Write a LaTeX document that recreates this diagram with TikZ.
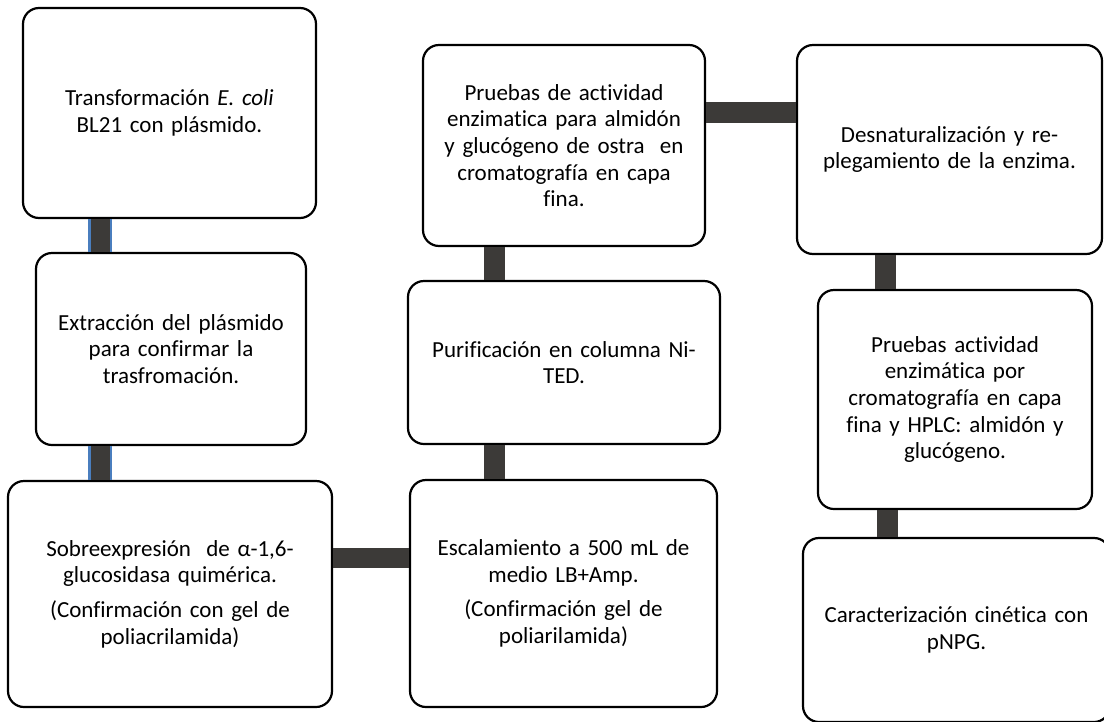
\documentclass[tikz,border=0pt]{standalone}
\usepackage{fontspec}
\setmainfont[Ligatures=NoCommon]{Carlito}
\definecolor{conndark}{RGB}{60,58,56}
\definecolor{connblue}{RGB}{74,126,190}
\tikzset{
  box/.style={draw=black, line width=2.2pt, fill=white, rounded corners=16pt,
    inner sep=0pt, align=center, font=\fontsize{23}{26.7}\selectfont},
  conn/.style={draw=conndark, line width=21pt, line cap=butt},
  connb/.style={draw=connblue, line width=24pt, line cap=butt},
  conni/.style={draw=conndark, line width=19pt, line cap=butt},
}
\begin{document}
\begin{tikzpicture}[x=1pt,y=-1pt]
\useasboundingbox (0,0) rectangle (1104,721);
\clip (0,0) rectangle (1104,721);
% nodes
\node[box, minimum width=293pt, minimum height=210pt, text width=285pt] (b1) at (169.5,113)
  {Transformación \textit{E. coli}\\BL21 con plásmido.};
\node[box, minimum width=270pt, minimum height=192pt, text width=264pt] (b2) at (171,349)
  {Extracción del plásmido\\para confirmar la\\trasfromación.};
\node[box, minimum width=324pt, minimum height=226pt, text width=316pt] (b3) at (170,594)
  {Sobreexpresión~ de α-1,6-\\glucosidasa quimérica.\\[8pt](Confirmación con gel de\\poliacrilamida)};
\node[box, minimum width=307pt, minimum height=227pt, text width=300pt] (b4) at (563.5,593.5)
  {Escalamiento a 500 mL de\\medio LB+Amp.\\[8pt](Confirmación gel de\\poliarilamida)};
\node[box, minimum width=312pt, minimum height=163pt, text width=305pt] (b5) at (564,362.5)
  {Purificación en columna Ni-\\TED.};
\node[box, minimum width=282pt, minimum height=201pt, text width=276pt] (b6) at (564,145.5)
  {Pruebas de actividad\\enzimatica para almidón\\y glucógeno de ostra~ en\\cromatografía en capa\\fina.};
\node[box, minimum width=305pt, minimum height=209pt, text width=298pt] (b7) at (949.5,149.5)
  {Desnaturalización y re-\\plegamiento de la enzima.};
\node[box, minimum width=274pt, minimum height=219pt, text width=268pt] (b8) at (955,399.5)
  {Pruebas actividad\\enzimática por\\cromatografía en capa\\fina y HPLC: almidón y\\glucógeno.};
\node[box, minimum width=307pt, minimum height=184pt, text width=300pt] (b9) at (956.5,630)
  {Caracterización cinética con\\pNPG.};
% connector guide coordinates
\coordinate (x1) at (100,0);
\coordinate (x2) at (494.5,0);
\coordinate (x3) at (885.5,0);
\coordinate (x4) at (887,0);
\coordinate (y1) at (0,558);
\coordinate (y2) at (0,112.5);
% connectors
\draw[connb] (b1.south -| x1) -- (b2.north -| x1);
\draw[conni] (b1.south -| x1) -- (b2.north -| x1);
\draw[connb] (b2.south -| x1) -- (b3.north -| x1);
\draw[conni] (b2.south -| x1) -- (b3.north -| x1);
\draw[conn, line width=20pt] (b3.east |- y1) -- (b4.west |- y1);
\draw[conn] (b4.north -| x2) -- (b5.south -| x2);
\draw[conn] (b5.north -| x2) -- (b6.south -| x2);
\draw[conn] (b6.east |- y2) -- (b7.west |- y2);
\draw[conn] (b7.south -| x3) -- (b8.north -| x3);
\draw[conn] (b8.south -| x4) -- (b9.north -| x4);
\end{tikzpicture}
\end{document}
